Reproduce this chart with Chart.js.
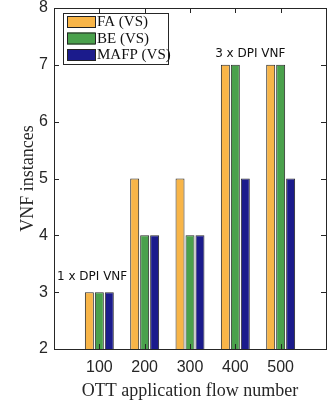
<!DOCTYPE html>
<html>
<head>
<meta charset="utf-8">
<script src="https://cdn.jsdelivr.net/npm/chart.js@4.4.1/dist/chart.umd.min.js"></script>
<style>
  html, body { margin: 0; padding: 0; background: #fff; }
  #wrap { width: 330px; height: 402px; }
</style>
</head>
<body>
<div id="wrap"><canvas id="c" width="330" height="402"></canvas></div>
<script>
// flow counts on the x axis; blank slots at both ends pad the axis like 0..600
const flowLabels = ['', '100', '200', '300', '400', '500', ''];
const faVS = [null, 3, 5, 5, 7, 7, null];
const beVS = [null, 3, 4, 4, 7, 7, null];
const mafpVS = [null, 3, 4, 4, 5, 5, null];
const yTicks = [2, 3, 4, 5, 6, 7, 8];
const notes = [
  { text: '1 x DPI VNF', x: 0.84, y: 3.27 },
  { text: '3 x DPI VNF', x: 4.33, y: 7.2 }
];

const AXIS = '#262626';
const seriesColors = ['#F8B548', '#4AA14C', '#1B1B8C'];
const seriesNames = ['FA (VS)', 'BE (VS)', 'MAFP (VS)'];

// box, inward tick marks, text notes and the in-plot legend
const frame = {
  id: 'frame',
  afterDraw(chart) {
    const ctx = chart.ctx;
    const a = chart.chartArea;
    const xs = chart.scales.x, ys = chart.scales.y;
    ctx.save();
    ctx.strokeStyle = AXIS;
    ctx.lineWidth = 1;
    ctx.strokeRect(Math.round(a.left) + 0.5, Math.round(a.top) + 0.5,
      Math.round(a.right - a.left), Math.round(a.bottom - a.top));
    ctx.beginPath();
    for (let i = 1; i < flowLabels.length - 1; i++) {
      const px = Math.round(xs.getPixelForValue(i)) + 0.5;
      ctx.moveTo(px, a.top); ctx.lineTo(px, a.top + 5);
      ctx.moveTo(px, a.bottom); ctx.lineTo(px, a.bottom - 5);
    }
    yTicks.forEach(v => {
      const py = Math.round(ys.getPixelForValue(v)) + 0.5;
      ctx.moveTo(a.left, py); ctx.lineTo(a.left + 5, py);
      ctx.moveTo(a.right, py); ctx.lineTo(a.right - 5, py);
    });
    ctx.stroke();

    ctx.fillStyle = '#111';
    ctx.font = '12px "DejaVu Sans"';
    ctx.textAlign = 'center';
    ctx.textBaseline = 'middle';
    notes.forEach(n => {
      ctx.fillText(n.text, xs.getPixelForValue(n.x), ys.getPixelForValue(n.y));
    });

    // legend box
    const lx = 63, ly = 13, lw = 105, lh = 51;
    ctx.fillStyle = '#fff';
    ctx.fillRect(lx, ly, lw, lh);
    ctx.strokeStyle = AXIS;
    ctx.strokeRect(lx + 0.5, ly + 0.5, lw, lh);
    ctx.font = '15px "Liberation Serif"';
    ctx.textAlign = 'left';
    seriesNames.forEach((name, i) => {
      const ry = ly + 3 + i * 16.5;
      ctx.fillStyle = seriesColors[i];
      ctx.fillRect(lx + 4, ry, 28, 12);
      ctx.strokeStyle = '#222';
      ctx.strokeRect(lx + 4.5, ry + 0.5, 28, 11);
      ctx.fillStyle = '#111';
      ctx.fillText(name, lx + 34, ry + 6.5);
    });
    ctx.restore();
  }
};

const ds = (label, data, i) => ({
  label, data,
  backgroundColor: seriesColors[i],
  borderColor: '#2a2a2a',
  borderWidth: 1,
  categoryPercentage: 0.66,
  barPercentage: 0.9
});

new Chart(document.getElementById('c'), {
  type: 'bar',
  data: {
    labels: flowLabels,
    datasets: [ds(seriesNames[0], faVS, 0), ds(seriesNames[1], beVS, 1), ds(seriesNames[2], mafpVS, 2)]
  },
  options: {
    responsive: false,
    animation: false,
    devicePixelRatio: 1,
    layout: { padding: { left: 0, right: 4, top: 0, bottom: 0 } },
    plugins: { legend: { display: false }, tooltip: { enabled: false } },
    scales: {
      x: {
        offset: false,
        grid: { display: false, drawTicks: false },
        border: { display: false },
        ticks: { color: AXIS, font: { family: 'Liberation Sans', size: 16 }, padding: 9, maxRotation: 0, autoSkip: false },
        title: { display: true, text: 'OTT application flow number', color: AXIS, font: { family: 'Liberation Serif', size: 18 }, padding: { top: 0, bottom: 0 } },
        afterFit(s) { s.height = 53; s.paddingLeft = 0; s.paddingRight = 0; }
      },
      y: {
        min: 2, max: 8,
        grid: { display: false, drawTicks: false },
        border: { display: false },
        ticks: { stepSize: 1, color: AXIS, font: { family: 'Liberation Sans', size: 16, lineHeight: 1 }, padding: 6 },
        title: { display: true, text: 'VNF instances', color: AXIS, font: { family: 'Liberation Serif', size: 18 }, padding: { top: 17, bottom: 0 } },
        afterFit(s) { s.width = 54; s.paddingTop = 8; s.paddingBottom = 0; }
      }
    }
  },
  plugins: [frame]
});
</script>
</body>
</html>
